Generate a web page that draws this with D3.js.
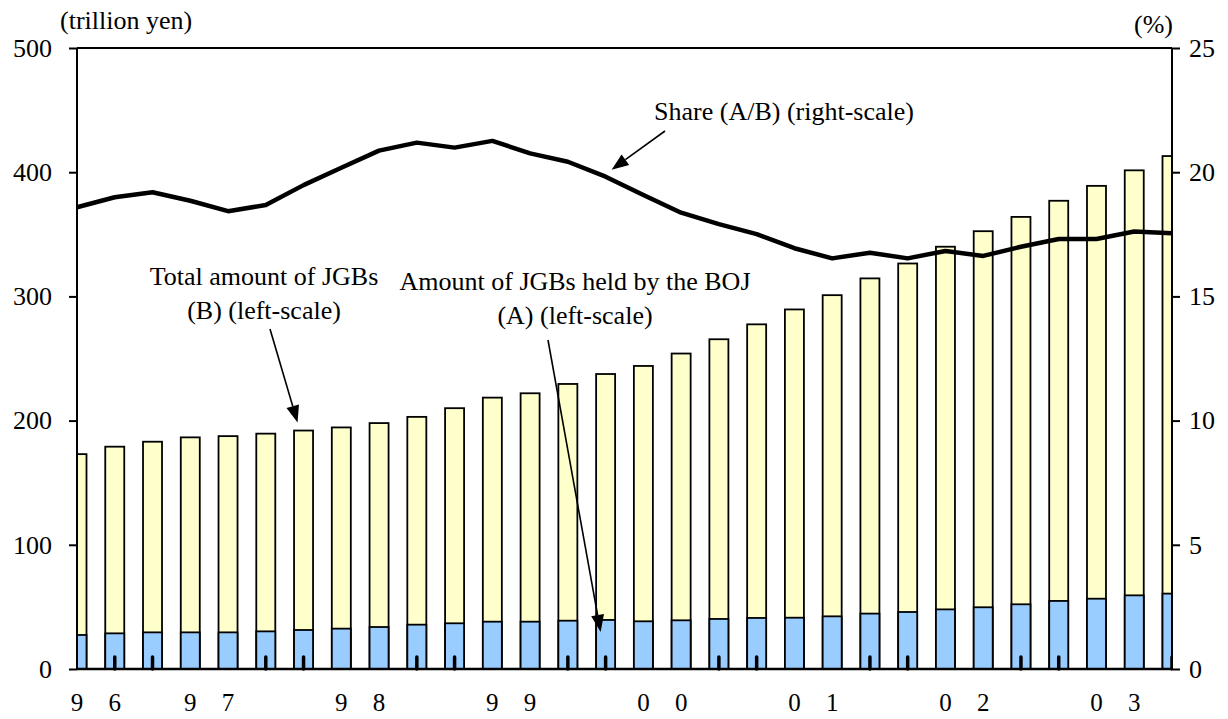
<!DOCTYPE html>
<html>
<head>
<meta charset="utf-8">
<script src="https://cdn.jsdelivr.net/npm/d3@7"></script>
<style>
  html, body { margin: 0; padding: 0; background: #fff; }
  svg text { font-family: "Liberation Serif", "Times New Roman", serif; fill: #000; }
</style>
</head>
<body>
<svg id="chart" width="1228" height="719"></svg>
<script>
// ── Data (quarterly, 30 periods) ─────────────────────────────────────────────
// x labels: year digits split under two adjacent quarters, as in the source
const xDigits = ['9','6','','9','7','','','9','8','','','9','9','','','0','0','','','0','1','','','0','2','','','0','3',''];
// Total amount of JGBs (B), trillion yen
const totalB = [173, 179, 183, 186.5, 187.5, 189.5, 192, 194.5, 198, 203,
                210, 218.5, 222, 229.5, 237.5, 244, 254, 265.5, 277.5, 289.5,
                301, 314.5, 326.5, 340, 352.5, 364, 377, 389, 401.5, 413];
// Amount of JGBs held by the BOJ (A), trillion yen
const bojA = [27.4, 28.7, 29.5, 29.5, 29.5, 30.3, 31.4, 32.5, 33.8, 35.7,
              36.8, 38.1, 38.1, 38.9, 39.5, 38.4, 39.2, 40.3, 41.1, 41.3,
              42.4, 44.6, 45.9, 48.0, 49.7, 52.1, 54.8, 56.6, 59.3, 60.7];
// Share (A/B), %
const share = [18.59, 18.99, 19.19, 18.85, 18.43, 18.68, 19.48, 20.18, 20.87, 21.19,
               20.99, 21.26, 20.76, 20.42, 19.82, 19.08, 18.37, 17.91, 17.51, 16.94,
               16.53, 16.76, 16.53, 16.83, 16.63, 17.0, 17.31, 17.31, 17.61, 17.54];
// quarters that carry the small inner tick mark on the x axis
const tickIdx = [1, 2, 5, 6, 9, 10, 13, 14, 17, 18, 21, 22, 25, 26, 29];
const leftTicks = [0, 100, 200, 300, 400, 500];
const rightTicks = [0, 5, 10, 15, 20, 25];

// ── Layout ──────────────────────────────────────────────────────────────────
const L = 77, R = 1172, T = 48, B = 669;
const svg = d3.select('#chart');
const idx = d3.range(totalB.length);

const x = d3.scalePoint().domain(idx).range([L, R]);
const yL = d3.scaleLinear().domain([0, 500]).range([B, T]);
const yR = d3.scaleLinear().domain([0, 25]).range([B, T]);
const barW = 19;

svg.append('defs').append('clipPath').attr('id', 'plot')
  .append('rect').attr('x', L).attr('y', T - 5).attr('width', R - L).attr('height', B - T + 10);

// ── Bars ────────────────────────────────────────────────────────────────────
const bars = svg.append('g').attr('clip-path', 'url(#plot)');
bars.selectAll('rect.tot').data(idx).join('rect')
  .attr('class', 'tot')
  .attr('x', i => x(i) - barW / 2).attr('width', barW)
  .attr('y', i => yL(totalB[i])).attr('height', i => yL(0) - yL(totalB[i]))
  .attr('fill', '#ffffcc').attr('stroke', '#000').attr('stroke-width', 1.8);
bars.selectAll('rect.boj').data(idx).join('rect')
  .attr('class', 'boj')
  .attr('x', i => x(i) - barW / 2).attr('width', barW)
  .attr('y', i => yL(bojA[i])).attr('height', i => yL(0) - yL(bojA[i]))
  .attr('fill', '#99ccff').attr('stroke', '#000').attr('stroke-width', 1.8);

// small rounded inner ticks
bars.selectAll('line.qt').data(tickIdx).join('line')
  .attr('class', 'qt')
  .attr('x1', i => x(i)).attr('x2', i => x(i))
  .attr('y1', B - 12).attr('y2', B)
  .attr('stroke', '#000').attr('stroke-width', 3.5).attr('stroke-linecap', 'round');

// ── Axes ────────────────────────────────────────────────────────────────────
const axL = svg.append('g').attr('transform', `translate(${L},0)`)
  .call(d3.axisLeft(yL).tickValues(leftTicks).tickSize(8).tickPadding(17));
const axR = svg.append('g').attr('transform', `translate(${R},0)`)
  .call(d3.axisRight(yR).tickValues(rightTicks).tickSize(8).tickPadding(9));
[axL, axR].forEach(a => {
  a.select('.domain').attr('stroke', '#000').attr('stroke-width', 2).attr('d', `M0,${T}V${B}`);
  a.selectAll('.tick line').attr('stroke', '#000').attr('stroke-width', 2);
  a.selectAll('.tick text').attr('font-size', 26).attr('font-family', '"Liberation Serif", serif');
});
// top border and baseline
svg.append('line').attr('x1', L).attr('x2', R).attr('y1', T).attr('y2', T)
  .attr('stroke', '#000').attr('stroke-width', 2);
svg.append('line').attr('x1', L).attr('x2', R).attr('y1', yL(0)).attr('y2', yL(0))
  .attr('stroke', '#000').attr('stroke-width', 2.5);

// x labels
svg.append('g').selectAll('text').data(idx.filter(i => xDigits[i])).join('text')
  .attr('x', i => x(i)).attr('y', 711)
  .attr('text-anchor', 'middle').attr('font-size', 25)
  .text(i => xDigits[i]);

// units
svg.append('text').attr('x', 60).attr('y', 29).attr('font-size', 26).text('(trillion yen)');
svg.append('text').attr('x', 1173).attr('y', 33).attr('text-anchor', 'end').attr('font-size', 26).text('(%)');

// ── Share line ──────────────────────────────────────────────────────────────
const line = d3.line().x(i => x(i)).y(i => yR(share[i]));
svg.append('path').datum(idx).attr('d', line)
  .attr('fill', 'none').attr('stroke', '#000').attr('stroke-width', 4.5)
  .attr('stroke-linejoin', 'round');

// ── Annotations ─────────────────────────────────────────────────────────────
function arrow(x1, y1, x2, y2) {
  const a = Math.atan2(y2 - y1, x2 - x1), len = 17, hw = 6.5;
  const bx = x2 - len * Math.cos(a), by = y2 - len * Math.sin(a);
  svg.append('line').attr('x1', x1).attr('y1', y1).attr('x2', bx).attr('y2', by)
    .attr('stroke', '#000').attr('stroke-width', 1.6);
  svg.append('path')
    .attr('d', `M${x2},${y2}L${bx - hw * Math.sin(a)},${by + hw * Math.cos(a)}L${bx + hw * Math.sin(a)},${by - hw * Math.cos(a)}Z`)
    .attr('fill', '#000');
}
function label(lines, cx, y0) {
  const t = svg.append('text').attr('text-anchor', 'middle').attr('font-size', 26);
  lines.forEach((s, k) => t.append('tspan').attr('x', cx).attr('y', y0 + k * 34).text(s));
}

label(['Share (A/B) (right-scale)'], 784, 120);
arrow(665, 131, x(14) + 6, yR(share[14]) - 7);

label(['Total amount of JGBs', '(B) (left-scale)'], 264, 285);
arrow(270, 329, x(6) - 6, yL(totalB[6]) - 8);

label(['Amount of JGBs held by the BOJ', '(A) (left-scale)'], 575, 290);
arrow(548, 340, x(14) - 5, yL(bojA[14]) + 12);
</script>
</body>
</html>
